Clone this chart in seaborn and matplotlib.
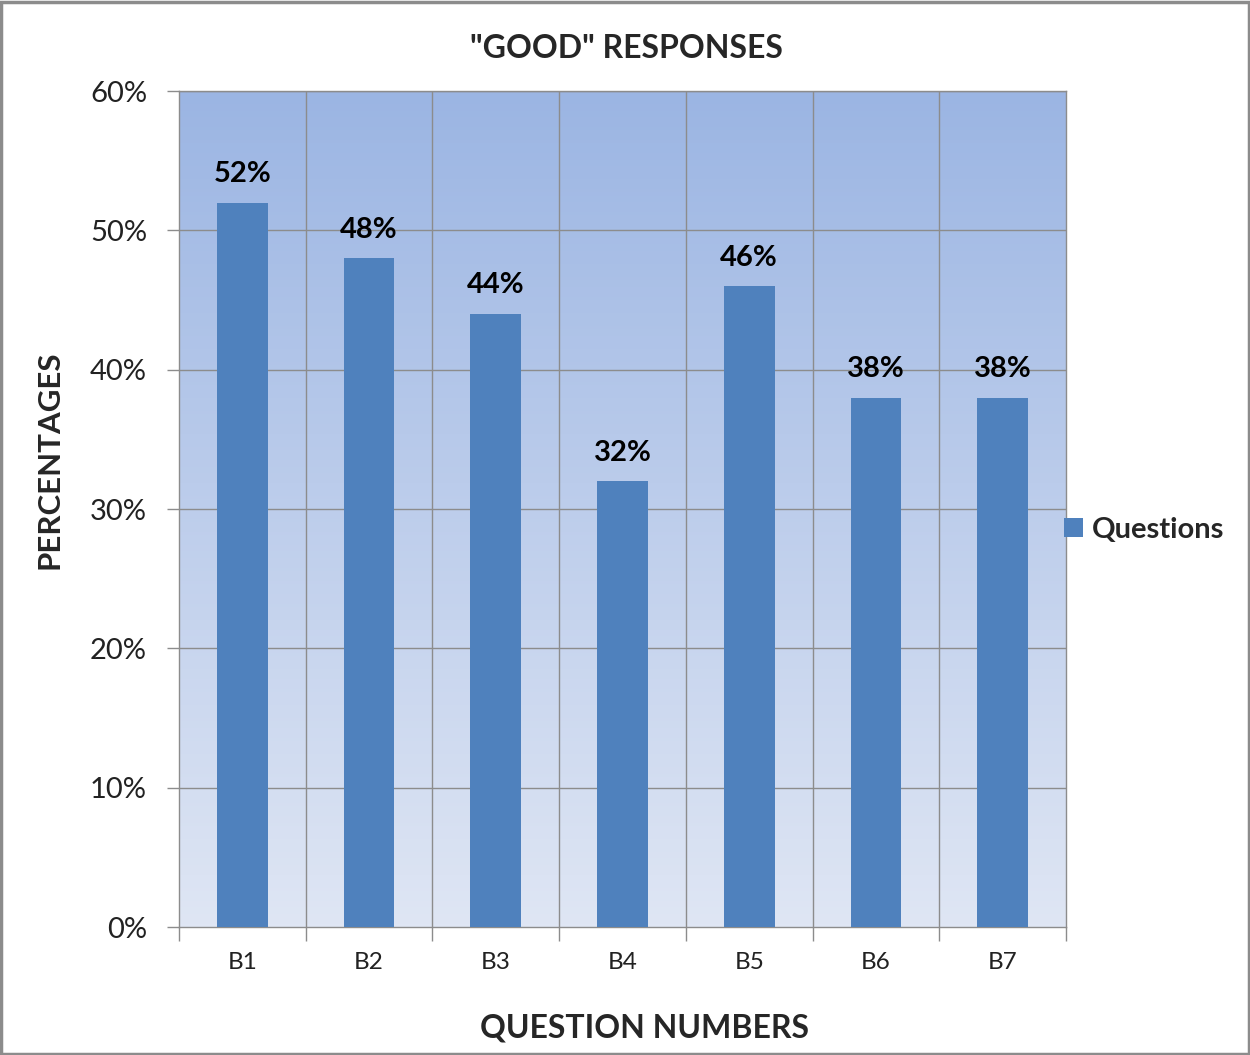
import numpy as np
import pandas as pd
import matplotlib
matplotlib.use("Agg")
import matplotlib.pyplot as plt
from matplotlib.colors import LinearSegmentedColormap
from matplotlib.patches import Rectangle, Patch
import seaborn as sns

questions = ["B1", "B2", "B3", "B4", "B5", "B6", "B7"]
good_pct = [52, 48, 44, 32, 46, 38, 38]
y_ticks = [0, 10, 20, 30, 40, 50, 60]

sns.set_theme(style="white")
plt.rcParams["font.family"] = ["Lato", "DejaVu Sans"]

df = pd.DataFrame({"question": questions, "pct": good_pct})

fig = plt.figure(figsize=(12.5, 10.55), dpi=100)
ax = fig.add_axes([0.1432, 0.1213, 0.7096, 0.7924])

bar_color = "#4F81BD"
grid_color = "#8C8C8C"

# gradient plot background
n = len(questions)
cmap = LinearSegmentedColormap.from_list("bg", ["#DFE6F4", "#9BB5E3"])
grad = np.linspace(0, 1, 256).reshape(-1, 1)
ax.imshow(grad, cmap=cmap, origin="lower", aspect="auto",
          extent=(-0.5, n - 0.5, 0, 60), zorder=0)

sns.barplot(data=df, x="question", y="pct", color=bar_color, width=0.4,
            saturation=1, linewidth=0, edgecolor="none", ax=ax, zorder=3)

ax.set_xlim(-0.5, n - 0.5)
ax.set_ylim(0, 60)

# value labels
for i, v in enumerate(good_pct):
    ax.text(i, v + 2.05, f"{v}%", ha="center", va="center", fontsize=21,
            fontweight="bold", color="black", zorder=4)

# grid and ticks
ax.set_yticks(y_ticks)
ax.set_yticklabels([f"{t}%" for t in y_ticks], fontsize=21, color="#222222")
ax.set_xticks(range(n))
ax.set_xticklabels(questions, fontsize=17.5, color="#222222")
ax.set_xticks(np.arange(-0.5, n, 1.0), minor=True)
ax.tick_params(bottom=True, left=True)
ax.tick_params(axis="x", which="major", length=0, pad=18)
ax.tick_params(axis="x", which="minor", bottom=True, length=10, width=1,
               color=grid_color, direction="out")
ax.tick_params(axis="y", which="major", length=9, width=1, color=grid_color,
               direction="out", pad=14)
ax.grid(False)
for y in y_ticks[1:]:
    ax.axhline(y, color=grid_color, lw=1, zorder=1)
for x in np.arange(0.5, n - 0.5, 1.0):
    ax.axvline(x, color=grid_color, lw=1, zorder=1)

for side in ["top", "right", "left", "bottom"]:
    ax.spines[side].set_visible(True)
    ax.spines[side].set_color(grid_color)
    ax.spines[side].set_linewidth(1)

ax.set_xlabel("QUESTION NUMBERS", fontsize=23, fontweight="bold")
ax.xaxis.set_label_coords(0.525, -0.103)
ax.set_ylabel("PERCENTAGES", fontsize=22.5, fontweight="bold")
ax.yaxis.set_label_coords(-0.130, 0.559)
ax.set_title('"GOOD" RESPONSES', fontsize=23, fontweight="bold", pad=0,
             x=0.504, y=1.040)

handles = [Patch(facecolor=bar_color, edgecolor="none", label="Questions")]
fig.legend(handles=handles, loc="center left", bbox_to_anchor=(0.830, 0.498),
           frameon=False, handlelength=0.65, handleheight=0.65,
           handletextpad=0.3, prop={"weight": "bold", "size": 21})

# outer frame of the figure
fig.patches.append(Rectangle((0.001, 0.001), 0.998, 0.997,
                             transform=fig.transFigure, fill=False,
                             edgecolor="#8C8C8C", lw=2.5))

fig.savefig("out.png", dpi=100)
